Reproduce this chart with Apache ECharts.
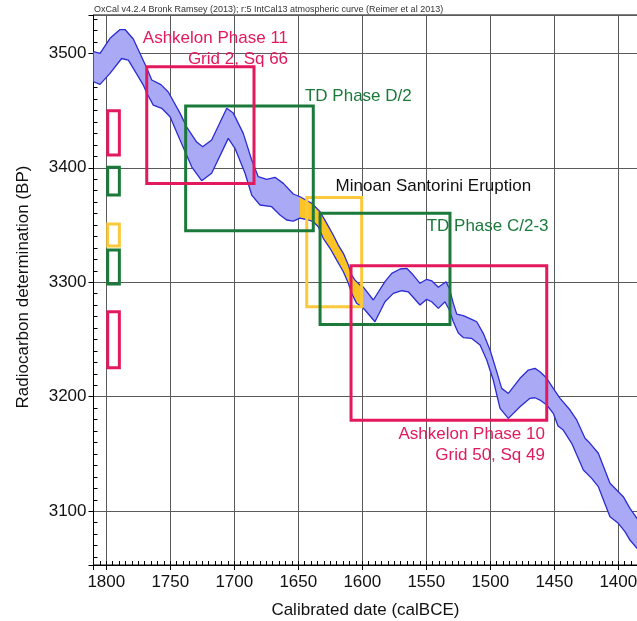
<!DOCTYPE html>
<html><head><meta charset="utf-8">
<script src="https://cdn.jsdelivr.net/npm/echarts@6/dist/echarts.min.js"></script>
<style>html,body{margin:0;padding:0;background:#fff}#c{width:637px;height:621px}</style>
</head><body><div id="c"></div>
<script>
// ---- data (calendar year BCE, radiocarbon BP) ----
const upperEdge = [[1810,3501.4],[1804.9,3500.0],[1797.1,3513.1],[1789.3,3520.8],[1785.4,3520.8],[1778.9,3512.5],[1768.4,3487.2],[1764.5,3476.7],[1757.3,3472.7],[1751.6,3466.2],[1742.4,3447.8],[1737.2,3435.6],[1729.4,3422.5],[1724.7,3418.4],[1717.7,3424.3],[1705.9,3452.0],[1700.8,3447.8],[1693.0,3430.1],[1686.4,3406.8],[1681.3,3392.2],[1674.7,3389.9],[1668.2,3391.7],[1661.7,3386.4],[1653.9,3377.1],[1648.7,3374.7],[1639.5,3369.0],[1633.0,3361.6],[1627.8,3351.5],[1622.7,3341.3],[1618.8,3332.5],[1614.8,3325.3],[1610.9,3315.1],[1608.3,3306.3],[1605.7,3301.9],[1601.8,3297.6],[1599.2,3295.8],[1591.4,3284.5],[1582.3,3300.5],[1577.0,3307.8],[1570.5,3311.6],[1565.3,3312.2],[1560.2,3306.3],[1554.9,3299.1],[1549.7,3302.6],[1545.8,3301.3],[1540.6,3295.6],[1534.6,3300.5],[1532.0,3294.7],[1528.9,3281.6],[1526.2,3272.2],[1521.1,3270.9],[1513.3,3267.0],[1510.6,3265.5],[1505.5,3255.4],[1500.2,3240.8],[1495.0,3221.9],[1491.1,3207.3],[1485.9,3202.9],[1476.8,3216.1],[1470.3,3223.3],[1465.1,3224.8],[1461.2,3221.9],[1455.9,3216.1],[1450.8,3207.3],[1445.5,3198.6],[1437.7,3188.4],[1432.5,3179.7],[1426.0,3163.7],[1422.1,3159.3],[1415.6,3150.6],[1406.5,3124.4],[1401.3,3118.5],[1396.1,3112.7],[1390.9,3102.5],[1385.4,3093.8],[1379.2,3083.6]];
const lowerEdge = [[1810,3475.2],[1804.9,3472.9],[1797.1,3482.5],[1788.0,3495.5],[1782.8,3494.1],[1775.0,3479.6],[1771.1,3472.3],[1768.4,3465.3],[1763.3,3454.8],[1756.7,3452.0],[1750.2,3444.6],[1742.4,3424.3],[1733.3,3400.9],[1725.5,3388.7],[1717.7,3395.2],[1704.7,3425.7],[1699.5,3417.0],[1691.6,3395.2],[1686.4,3376.2],[1679.9,3367.5],[1670.8,3366.0],[1664.3,3358.7],[1659.1,3354.4],[1653.9,3353.5],[1648.7,3356.1],[1642.2,3354.4],[1638.3,3352.9],[1634.4,3348.5],[1630.5,3338.4],[1625.2,3329.7],[1620.0,3319.4],[1614.8,3309.2],[1610.9,3299.1],[1608.3,3290.3],[1604.4,3281.6],[1600.5,3278.6],[1597.9,3275.8],[1590.1,3265.5],[1582.3,3283.0],[1575.8,3290.3],[1569.2,3292.6],[1564.1,3291.7],[1554.9,3280.1],[1549.7,3285.1],[1545.8,3283.0],[1540.6,3277.2],[1535.4,3283.0],[1532.0,3275.8],[1528.9,3265.5],[1525.0,3255.7],[1521.1,3251.7],[1514.5,3250.9],[1508.0,3245.2],[1502.8,3232.1],[1497.7,3214.6],[1492.4,3189.9],[1485.9,3181.1],[1476.8,3191.3],[1469.0,3198.6],[1465.1,3199.1],[1461.2,3197.1],[1455.9,3192.8],[1450.8,3185.5],[1447.1,3174.4],[1443.0,3170.9],[1436.4,3159.3],[1427.3,3136.0],[1420.8,3128.7],[1415.6,3121.4],[1406.5,3095.2],[1400.0,3089.4],[1394.8,3082.1],[1390.9,3074.8],[1385.4,3067.6],[1379.2,3057.3]];
const eruptionRange = [1600, 1649];

// boxes: [yearFrom, yearTo, bpHigh, bpLow]
const ashkelon11Box = [[1768.4, 1684.6, 3488.3, 3386.4]];
const ashkelon10Box = [[1608.8, 1455.9, 3314.4, 3179.4]];
const tdBoxes = [[1738.0, 1638.3, 3454.0, 3345.0], [1633.0, 1531.5, 3360.4, 3263.1]];
const minoanBox = [[1643.4, 1600.5, 3374.0, 3278.6]];
// radiocarbon ranges drawn beside the y axis
const pinkRanges = [[1798.9, 1789.8, 3449.9, 3411.2], [1798.9, 1789.8, 3274.3, 3225.3]];
const greenRanges = [[1798.9, 1789.8, 3400.4, 3376.2], [1798.9, 1789.8, 3328.2, 3298.5]];
const yellowRanges = [[1798.9, 1789.8, 3350.9, 3331.7]];

// annotations
const labelTexts = ['Ashkelon Phase 11\nGrid 2, Sq 66', 'TD Phase D/2', 'Minoan Santorini Eruption', 'TD Phase C/2-3', 'Ashkelon Phase 10\nGrid 50, Sq 49'];
const labelAnchors = [[1658.0, 3503.9], [1644.8, 3462.7], [1620.9, 3383.6], [1549.7, 3349.1], [1457.3, 3158.3]];
const labelAlign = ['right', 'left', 'left', 'left', 'right'];

const PINK = '#e3195d', GREEN = '#1b7a3a', YELLOW = '#fbc93c', ORANGE = '#fbc425';
const FONT = '"Liberation Sans", Arial, sans-serif';
const labelColors = [PINK, GREEN, '#111', GREEN, PINK];

function boxSeries(data, color, z) {
  return {
    type: 'custom', coordinateSystem: 'cartesian2d', xAxisIndex: 0, yAxisIndex: 0,
    silent: true, z: z, data: data, encode: { x: [0, 1], y: [2, 3] },
    renderItem: function (p, api) {
      const a = api.coord([api.value(0), api.value(2)]);
      const b = api.coord([api.value(1), api.value(3)]);
      return {
        type: 'rect',
        shape: { x: Math.min(a[0], b[0]), y: Math.min(a[1], b[1]), width: Math.abs(b[0] - a[0]), height: Math.abs(b[1] - a[1]) },
        style: { fill: 'none', stroke: color, lineWidth: 3 }
      };
    }
  };
}

function bandSeries(up, lo, fill, z) {
  return {
    type: 'custom', coordinateSystem: 'cartesian2d', xAxisIndex: 0, yAxisIndex: 0,
    silent: true, z: z, clip: true, data: [up[0]],
    renderItem: function (p, api) {
      const pts = up.map(d => api.coord(d)).concat(lo.slice().reverse().map(d => api.coord(d)));
      return { type: 'polygon', shape: { points: pts }, style: { fill: fill } };
    }
  };
}

const inRange = d => d[0] >= eruptionRange[0] && d[0] <= eruptionRange[1];

const chart = echarts.init(document.getElementById('c'), null, { renderer: 'canvas' });
chart.setOption({
  animation: false,
  backgroundColor: '#fff',
  title: {
    text: 'OxCal v4.2.4 Bronk Ramsey (2013); r:5 IntCal13 atmospheric curve (Reimer et al 2013)',
    left: 94, top: 5, padding: 0,
    textStyle: { fontSize: 9, fontWeight: 'normal', color: '#333', fontFamily: FONT }
  },
  grid: { left: 93.5, top: 15, width: 588.8, height: 550, show: true, borderColor: '#000', borderWidth: 1,
          backgroundColor: 'transparent', outerBoundsMode: 'none', containLabel: false },
  xAxis: [
    {
      type: 'value', min: 1350, max: 1810, interval: 50, inverse: true, position: 'bottom',
      axisLine: { show: true, onZero: false, lineStyle: { color: '#000', width: 1 } },
      axisTick: { show: true, inside: false, length: 5, lineStyle: { color: '#000' } },
      axisLabel: { fontSize: 17, color: '#111', margin: 9, fontFamily: FONT, formatter: v => (v % 50 === 0 ? String(v) : '') },
      splitLine: { show: true, lineStyle: { color: '#5a5a5a', width: 1 } },
      name: 'Calibrated date (calBCE)', nameLocation: 'middle', nameGap: 37,
      nameTextStyle: { fontSize: 17, color: '#111', fontFamily: FONT, padding: [0, 45, 0, 0] }
    },
    {
      type: 'value', min: 1350, max: 1810, interval: 5, inverse: true, position: 'bottom',
      axisLine: { show: false }, axisTick: { show: true, inside: true, length: 4, lineStyle: { color: '#000' } },
      axisLabel: { show: false }, splitLine: { show: false }
    }
  ],
  yAxis: [
    {
      type: 'value', min: 3053, max: 3533.5, position: 'left',
      axisLine: { show: true, onZero: false, lineStyle: { color: '#000', width: 1 } },
      axisTick: { show: true, inside: false, length: 5, lineStyle: { color: '#000' } },
      axisLabel: { fontSize: 17, color: '#111', margin: 7, fontFamily: FONT, formatter: v => (v % 100 === 0 ? String(v) : '') },
      splitLine: { show: true, lineStyle: { color: '#5a5a5a', width: 1 } },
      name: 'Radiocarbon determination (BP)', nameLocation: 'middle', nameGap: 62,
      nameTextStyle: { fontSize: 17, color: '#111', fontFamily: FONT, padding: [0, 0, 0, 6] }
    },
    {
      type: 'value', min: 3053, max: 3533.5, position: 'left',
      axisLine: { show: false }, axisTick: { show: false, inside: true },
      minorTick: { show: true, splitNumber: 10, length: 4, lineStyle: { color: '#000' } },
      axisLabel: { show: false }, splitLine: { show: false }
    }
  ],
  series: [
    bandSeries(upperEdge, lowerEdge, '#a9a9f5', 2),
    bandSeries(upperEdge.filter(inRange), lowerEdge.filter(inRange), ORANGE, 3),
    { type: 'line', data: upperEdge, xAxisIndex: 0, yAxisIndex: 0, showSymbol: false, silent: true, z: 4,
      lineStyle: { color: '#2c2cd4', width: 1.3 } },
    { type: 'line', data: lowerEdge, xAxisIndex: 0, yAxisIndex: 0, showSymbol: false, silent: true, z: 4,
      lineStyle: { color: '#2c2cd4', width: 1.3 } },
    boxSeries(minoanBox, YELLOW, 5),
    boxSeries(yellowRanges, YELLOW, 5),
    boxSeries(tdBoxes, GREEN, 6),
    boxSeries(greenRanges, GREEN, 6),
    boxSeries(ashkelon11Box, PINK, 7),
    boxSeries(ashkelon10Box, PINK, 7),
    boxSeries(pinkRanges, PINK, 7),
    {
      type: 'custom', coordinateSystem: 'cartesian2d', xAxisIndex: 0, yAxisIndex: 0, silent: true, z: 8,
      clip: false, data: labelAnchors,
      renderItem: function (p, api) {
        const c = api.coord([api.value(0), api.value(1)]);
        return {
          type: 'text', x: c[0], y: c[1],
          style: { text: labelTexts[p.dataIndex], fill: labelColors[p.dataIndex], fontSize: 17, fontFamily: FONT,
                   align: labelAlign[p.dataIndex], verticalAlign: 'middle', lineHeight: 21 }
        };
      }
    }
  ]
});
</script>
</body></html>
